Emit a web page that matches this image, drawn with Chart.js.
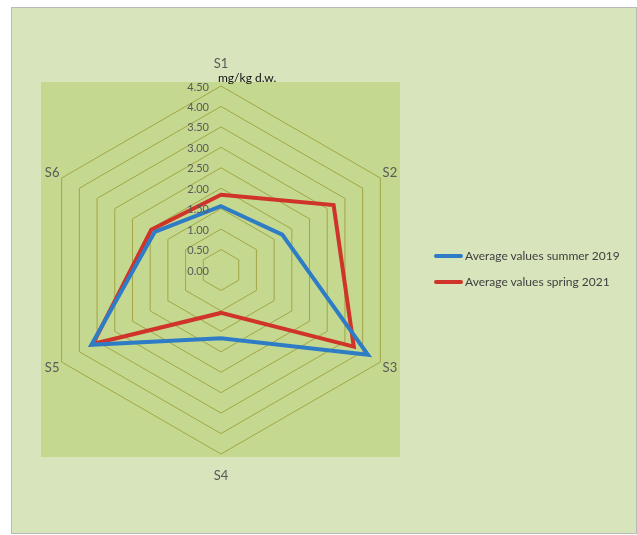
<!DOCTYPE html>
<html>
<head>
<meta charset="utf-8">
<script src="https://cdn.jsdelivr.net/npm/chart.js@4/dist/chart.umd.min.js"></script>
<style>
  body { margin: 0; background: #fff; font-family: Lato, "Open Sans", sans-serif; }
  #frame { position: absolute; left: 11px; top: 7px; width: 624px; height: 525px; border: 1px solid #b9b9b9; background: #d8e4bb; }
  #plot { position: absolute; left: 41px; top: 82px; width: 359px; height: 375px; background: #c4d88f; }
  #c { position: absolute; left: 0; top: 0; }
  .leg { position: absolute; left: 434px; font-size: 12px; color: #404040; white-space: nowrap; }
  .leg span { display: inline-block; width: 29px; height: 4px; border-radius: 2px; vertical-align: middle; margin-right: 2px; position: relative; top: -1px; }
</style>
</head>
<body>
<div id="frame"></div>
<div id="plot"></div>
<canvas id="c" width="637" height="535"></canvas>
<div id="legend"></div>
<script>
var categories = ['S1', 'S2', 'S3', 'S4', 'S5', 'S6'];
var summer2019 = [1.56, 1.73, 4.15, 1.67, 3.66, 1.87];
var spring2021 = [1.84, 3.18, 3.75, 1.05, 3.62, 1.97];
var seriesNames = ['Average values summer 2019', 'Average values spring 2021'];
var tickLabels = ['0.00', '0.50', '1.00', '1.50', '2.00', '2.50', '3.00', '3.50', '4.00', '4.50'];
var unitLabel = 'mg/kg d.w.';

var colors = ['#2f7cc6', '#cf3329'];
var R = 184, cx = 221, cy = 270;

// legend as plain html
var legHtml = '';
for (let i = 0; i < seriesNames.length; i++) {
  legHtml += '<div class="leg" style="top:' + (248 + i * 26) + 'px"><span style="background:' + colors[i] + '"></span>' + seriesNames[i] + '</div>';
}
document.getElementById('legend').innerHTML = legHtml;

var labelPlugin = {
  id: 'labels',
  afterDraw: function(chart) {
    var s = chart.scales.r;
    var ctx = chart.ctx;
    ctx.save();
    // tick labels, right aligned left of the axis
    ctx.font = '11px Lato, "Open Sans", sans-serif';
    ctx.fillStyle = '#595959';
    ctx.textAlign = 'right';
    ctx.textBaseline = 'middle';
    for (let t of tickLabels) {
      let d = s.getDistanceFromCenterForValue(parseFloat(t));
      ctx.fillText(t, s.xCenter - 12, s.yCenter - d + 1);
    }
    // category labels
    ctx.font = '13px Lato, "Open Sans", sans-serif';
    ctx.textAlign = 'center';
    for (let i = 0; i < categories.length; i++) {
      let extra = (i == 0 || i == 3) ? 22 : 11;
      let p = s.getPointPosition(i, s.drawingArea + extra);
      ctx.fillText(categories[i], p.x, p.y);
    }
    // unit
    ctx.font = '12px Lato, "Open Sans", sans-serif';
    ctx.fillStyle = '#111';
    ctx.textAlign = 'left';
    ctx.fillText(unitLabel, s.xCenter - 3, s.yCenter - s.drawingArea - 8);
    ctx.restore();
  }
};

new Chart(document.getElementById('c'), {
  type: 'radar',
  data: {
    labels: categories,
    datasets: [{
      label: seriesNames[0],
      data: summer2019,
      borderColor: colors[0],
      borderWidth: 4,
      pointRadius: 0,
      fill: false
    }, {
      label: seriesNames[1],
      data: spring2021,
      borderColor: colors[1],
      borderWidth: 4,
      pointRadius: 0,
      fill: false
    }]
  },
  options: {
    responsive: false,
    animation: false,
    layout: { padding: { left: cx - R, top: cy - R, right: 637 - cx - R, bottom: 535 - cy - R } },
    plugins: { legend: { display: false }, tooltip: { enabled: false } },
    scales: {
      r: {
        min: 0,
        max: 4.5,
        ticks: { stepSize: 0.5, display: false },
        grid: { color: '#a3a546', lineWidth: 1 },
        angleLines: { display: false },
        pointLabels: { display: false }
      }
    }
  },
  plugins: [labelPlugin]
});
</script>
</body>
</html>
